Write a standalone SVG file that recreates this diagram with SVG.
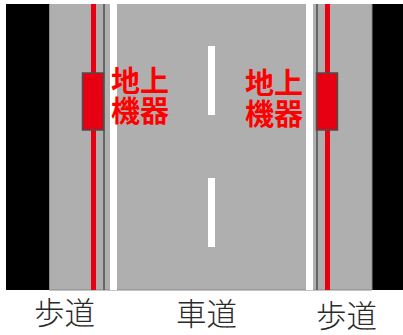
<svg xmlns="http://www.w3.org/2000/svg" width="403" height="335" viewBox="0 0 403 335">
<style>
.red{font:bold 29px "Noto Sans CJK JP",sans-serif;fill:#ff0000}
.lab{font:300 30.500px "Noto Sans CJK JP",sans-serif;fill:#2a2a2a}
.box{fill:#e60012;stroke:#4d4d4d;stroke-width:1.5}
</style>
<rect width="403" height="335" fill="#fff"/>
<g id="road">
<rect x="6" y="4" width="397" height="286" fill="#000"/>
<rect x="49" y="4" width="323" height="286" fill="#afafaf"/>
<rect x="49" y="4" width="1" height="286" fill="#8a8a8a"/>
<rect x="371.500" y="4" width="1" height="286" fill="#8a8a8a"/>
<rect x="49" y="289.500" width="323" height="1" fill="#8a8a8a"/>
<rect x="91" y="4" width="5" height="286" fill="#e60012"/>
<rect x="103" y="4" width="2" height="286" fill="#666"/>
<rect x="110" y="4" width="7" height="286" fill="#fff"/>
<rect x="306" y="4" width="7" height="286" fill="#fff"/>
<rect x="316" y="4" width="2" height="286" fill="#666"/>
<rect x="325" y="4" width="5" height="286" fill="#e60012"/>
<rect x="208" y="46" width="7" height="69" fill="#fff"/>
<rect x="208" y="178" width="7" height="69" fill="#fff"/>
</g>
<g id="device-left"><rect class="box" x="82.500" y="73" width="21" height="57"/>
<text class="red"><tspan x="111" y="92">地上</tspan><tspan x="111" y="122">機器</tspan></text></g>
<g id="device-right"><rect class="box" x="316.500" y="73" width="21" height="57"/>
<text class="red"><tspan x="245" y="94">地上</tspan><tspan x="245" y="125">機器</tspan></text></g>
<g id="labels">
<text class="lab" x="34" y="324">歩道</text>
<text class="lab" x="176" y="325">車道</text>
<text class="lab" x="316" y="326.500">歩道</text>
</g>
</svg>
